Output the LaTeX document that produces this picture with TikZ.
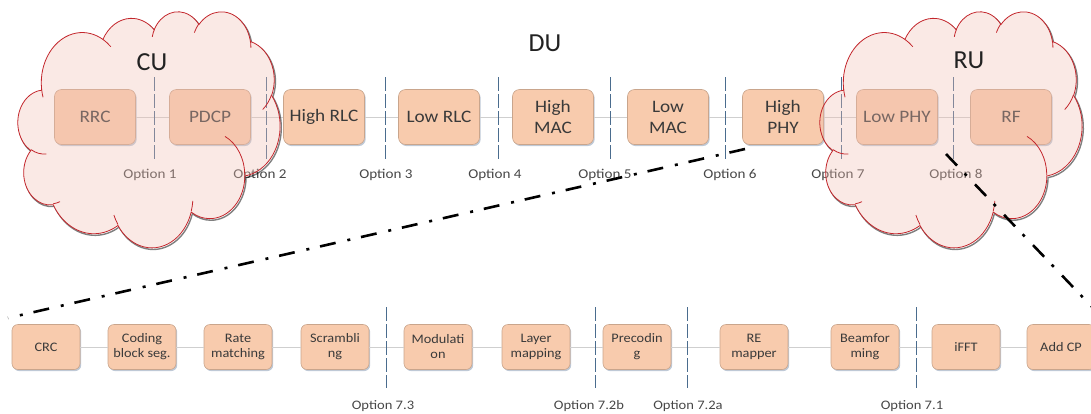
\documentclass[tikz,border=0pt]{standalone}
\usepackage{fontspec}
\setmainfont{Carlito}
\newfontfamily\boxfont{Carlito}[FakeStretch=1.1]
\newfontfamily\optfont{Carlito}[FakeStretch=1.12]
\usetikzlibrary{shadows}

\definecolor{boxfill}{HTML}{F8CBAD}
\definecolor{boxedge}{HTML}{C9A58C}
\definecolor{boxshade}{HTML}{8A9DB5}
\definecolor{boxtext}{HTML}{3A3A3A}
\definecolor{splitcol}{HTML}{4A6C8E}
\definecolor{opttext}{HTML}{474747}
\definecolor{linkcol}{HTML}{CFCFCF}
\definecolor{cloudpink}{HTML}{F0BEB2}
\definecolor{cloudred}{HTML}{C3262C}
\definecolor{titletext}{HTML}{222222}

% Office-style cloud outline in a 43.2 x 43.2 box (y pointing down)
\def\cloudoutline{(3.900,14.370)
 arc[start angle=-187.746, end angle=-59.640, x radius=6.753, y radius=9.190]
 arc[start angle=-152.028, end angle=-45.432, x radius=5.333, y radius=7.267]
 arc[start angle=-153.489, end angle=-37.329, x radius=4.365, y radius=5.945]
 arc[start angle=-139.704, end angle=-10.212, x radius=4.857, y radius=6.595]
 arc[start angle=-74.768, end angle=23.210, x radius=5.333, y radius=7.273]
 arc[start angle=-37.538, end angle=81.863, x radius=6.775, y radius=9.220]
 arc[start angle=0.460, end angle=121.979, x radius=5.785, y radius=7.867]
 arc[start angle=16.845, end angle=146.258, x radius=6.752, y radius=9.215]
 arc[start angle=58.995, end angle=150.200, x radius=7.720, y radius=10.543]
 arc[start angle=-276.694, end angle=-136.888, x radius=4.360, y radius=5.918]
 arc[start angle=-239.645, end angle=-95.887, x radius=4.345, y radius=5.945]
 -- cycle}
% the short inner creases of the cloud
\def\cloudcreases{
 (4.693,26.177) arc[start angle=85.547, end angle=120.355, x radius=4.345, y radius=5.945]
 (6.928,34.899) arc[start angle=68.234, end angle=83.306, x radius=4.360, y radius=5.918]
 (16.478,39.090) arc[start angle=146.258, end angle=158.472, x radius=6.752, y radius=9.215]
 (28.827,34.751) arc[start angle=4.738, end angle=16.845, x radius=6.752, y radius=9.215]
 (34.129,22.954) arc[start angle=-64.030, end angle=0.460, x radius=5.785, y radius=7.867]
 (41.798,15.354) arc[start angle=23.210, end angle=49.653, x radius=5.333, y radius=7.273]
 (38.324,5.426) arc[start angle=-10.212, end angle=0.820, x radius=4.857, y radius=6.595]
 (29.078,3.952) arc[start angle=-156.285, end angle=-139.704, x radius=4.857, y radius=6.595]
 (22.141,4.720) arc[start angle=-167.726, end angle=-153.489, x radius=4.365, y radius=5.945]
 (14.000,5.192) arc[start angle=-59.640, end angle=-45.756, x radius=6.753, y radius=9.190]
 (4.127,15.789) arc[start angle=163.194, end angle=172.254, x radius=6.753, y radius=9.190]
}
% translucent cloud with its top-left corner at (#1,#2)
\newcommand\puffcloud[2]{%
 \begin{scope}[shift={(#1pt,-#2pt)}, x=6.0648pt, y=-5.4630pt]
  \begin{scope}
   \clip (-5,-5) -- (-5,50) -- (50,50) -- (50,-5) -- cycle \cloudoutline;
   \draw[black, opacity=0.5, line width=1.4pt, shift={(1.2pt,-1.6pt)}] \cloudoutline;
  \end{scope}
  \path[fill=cloudpink, fill opacity=0.34] \cloudoutline;
  \draw[cloudred, line width=0.8pt] \cloudoutline;
  \draw[cloudred, line width=0.8pt] \cloudcreases;
 \end{scope}}

\begin{document}
\begin{tikzpicture}[x=1pt, y=-1pt,
  stage/.style={draw=boxedge, line width=0.6pt, fill=boxfill, rounded corners=7pt,
    minimum width=81pt, minimum height=55pt, inner sep=0pt, align=center, text=boxtext,
    font=\boxfont\fontsize{17.5}{21}\selectfont,
    drop shadow={shadow xshift=1.2pt, shadow yshift=-1.6pt, fill=boxshade, opacity=0.55}},
  substage/.style={stage, rounded corners=6pt, minimum width=68pt, minimum height=45pt,
    font=\boxfont\fontsize{13}{15}\selectfont},
  link/.style={draw=linkcol, line width=0.8pt},
  split/.style={draw=splitcol, line width=0.9pt, dash pattern=on 14pt off 3pt},
  optlabel/.style={text=opttext, inner sep=0pt, font=\optfont\fontsize{13.5}{15}\selectfont},
  suboptlabel/.style={optlabel, font=\optfont\fontsize{13}{15}\selectfont},
  title/.style={text=titletext, inner sep=0pt, font=\fontsize{26}{30}\selectfont},
  zoomline/.style={draw=black, line width=2.6pt, dash pattern=on 16pt off 11pt on 3pt off 12pt}
]
\useasboundingbox (0,0) rectangle (1091,413);

% ---- functional split, upper row ----
\node[stage] (rrc)  at (95,117)   {RRC};
\node[stage] (pdcp) at (210,117)  {PDCP};
\node[stage] (hrlc) at (324,117)  {High RLC};
\node[stage] (lrlc) at (439,117)  {Low RLC};
\node[stage] (hmac) at (553,117)  {High\\MAC};
\node[stage] (lmac) at (668,117)  {Low\\MAC};
\node[stage] (hphy) at (783,117)  {High\\PHY};
\node[stage] (lphy) at (897,117)  {Low PHY};
\node[stage] (rf)   at (1011,117) {RF};
\foreach \a/\b in {rrc/pdcp,pdcp/hrlc,hrlc/lrlc,lrlc/hmac,hmac/lmac,lmac/hphy,hphy/lphy,lphy/rf}
  \draw[link] (\a) -- (\b);

\foreach \x in {154,266,385,498,610,725,841,953}
  \draw[split] (\x,77) -- (\x,160);
\node[optlabel] (opt1) at (150,175) {Option 1};
\node[optlabel] (opt2) at (260,175) {Option 2};
\node[optlabel] (opt3) at (386,175) {Option 3};
\node[optlabel] (opt4) at (495,175) {Option 4};
\node[optlabel] (opt5) at (605,175) {Option 5};
\node[optlabel] (opt6) at (730,175) {Option 6};
\node[optlabel] (opt7) at (838,175) {Option 7};
\node[optlabel] (opt8) at (956,175) {Option 8};

% ---- PHY chain, lower row ----
\node[substage] (crc)  at (46,347)   {CRC};
\node[substage] (cbs)  at (142,347)  {Coding\\block seg.};
\node[substage] (rm)   at (238,347)  {Rate\\matching};
\node[substage] (scr)  at (335,347)  {Scrambli\\ng};
\node[substage] (mod)  at (438,347)  {Modulati\\on};
\node[substage] (lm)   at (536,347)  {Layer\\mapping};
\node[substage] (prec) at (637,347)  {Precodin\\g};
\node[substage] (rem)  at (754,347)  {RE\\mapper};
\node[substage] (bf)   at (865,347)  {Beamfor\\ming};
\node[substage] (ifft) at (966,347)  {iFFT};
\node[substage] (acp)  at (1061,347) {Add CP};
\foreach \a/\b in {crc/cbs,cbs/rm,rm/scr,scr/mod,mod/lm,lm/prec,prec/rem,rem/bf,bf/ifft,ifft/acp}
  \draw[link] (\a) -- (\b);

\foreach \x in {386,595,687,916}
  \draw[split] (\x,307) -- (\x,388);
\node[suboptlabel] (opt73)  at (383,406) {Option 7.3};
\node[suboptlabel] (opt72b) at (589,406) {Option 7.2b};
\node[suboptlabel] (opt72a) at (688,406) {Option 7.2a};
\node[suboptlabel] (opt71)  at (912,406) {Option 7.1};

% ---- CU and RU clouds ----
\puffcloud{18}{11}
\puffcloud{820}{11}
\node[title] (cu) at (152,62) {CU};
\node[title] (du) at (545,43) {DU};
\node[title] (ru) at (969,60) {RU};

% ---- zoom guides from the PHY split to the lower row ----
\coordinate (zoomAtop) at (745,149);
\coordinate (zoomAbot) at (8,318);
\coordinate (zoomBtop) at (946,154);
\coordinate (zoomBbot) at (1094,309);
\draw[zoomline] (zoomAtop) -- (zoomAbot);
\draw[zoomline] (zoomBtop) -- (zoomBbot);
\end{tikzpicture}
\end{document}
